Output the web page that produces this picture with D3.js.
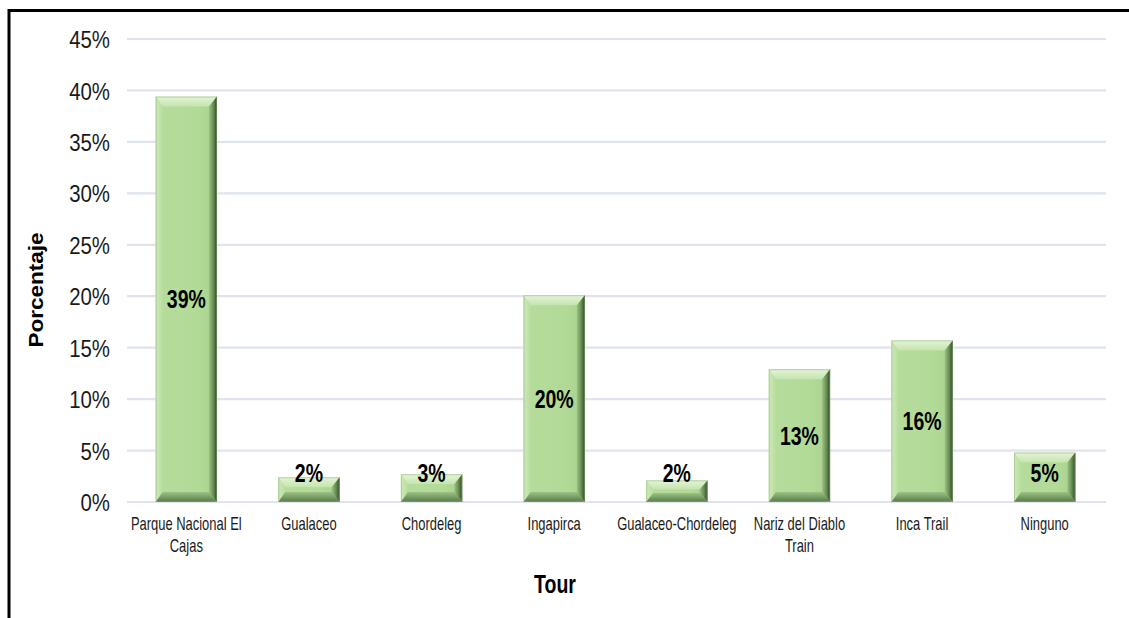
<!DOCTYPE html>
<html>
<head>
<meta charset="utf-8">
<script src="https://cdn.jsdelivr.net/npm/d3@7"></script>
<style>
  html, body { margin: 0; padding: 0; background: #fff; }
  svg { display: block; }
  text { font-family: "Liberation Sans", Arial, sans-serif; }
</style>
</head>
<body>
<svg id="chart" width="1129" height="618"></svg>
<script>
// ---- data ----
const categories = ["Parque Nacional El Cajas", "Gualaceo", "Chordeleg", "Ingapirca",
                    "Gualaceo-Chordeleg", "Nariz del Diablo Train", "Inca Trail", "Ninguno"];
const categoryLines = [["Parque Nacional El", "Cajas"], ["Gualaceo"], ["Chordeleg"], ["Ingapirca"],
                       ["Gualaceo-Chordeleg"], ["Nariz del Diablo", "Train"], ["Inca Trail"], ["Ninguno"]];
const values = [39.4, 2.4, 2.7, 20.1, 2.1, 12.9, 15.7, 4.8];
const yTicks = [0, 5, 10, 15, 20, 25, 30, 35, 40, 45];
const xTitle = "Tour";
const yTitle = "Porcentaje";

// ---- layout ----
const W = 1129, H = 618;
const plot = { left: 125, right: 1106, top: 39, bottom: 502 };
const svg = d3.select("#chart");

const x = d3.scaleBand().domain(categories).range([plot.left, plot.right]).paddingInner(0.5).paddingOuter(0.25);
const y = d3.scaleLinear().domain([0, 45]).range([plot.bottom, plot.top]);

// condensed text helper: a group translated to the anchor, text scaled horizontally
function ctext(parent, px, py, str, opts) {
  const g = parent.append("g").attr("transform", `translate(${px},${py}) scale(${opts.k},1)`);
  return g.append("text").attr("x", 0).attr("y", 0)
    .attr("font-size", opts.size).attr("font-weight", opts.bold ? "bold" : "normal")
    .attr("fill", opts.fill || "#000").attr("text-anchor", opts.anchor || "middle")
    .attr("dominant-baseline", opts.baseline || "auto")
    .text(str);
}

// frame
svg.append("line").attr("x1", 8).attr("x2", W).attr("y1", 10.5).attr("y2", 10.5)
  .attr("stroke", "#000").attr("stroke-width", 3);
svg.append("line").attr("x1", 9).attr("x2", 9).attr("y1", 9).attr("y2", H)
  .attr("stroke", "#000").attr("stroke-width", 3);

// gridlines
svg.append("g").selectAll("line").data(yTicks).join("line")
  .attr("x1", plot.left + 2).attr("x2", plot.right)
  .attr("y1", d => y(d)).attr("y2", d => y(d))
  .attr("stroke", "#dfe4ee").attr("stroke-width", 2.2);

// y axis labels
const yAxis = d3.axisLeft(y).tickValues(yTicks).tickFormat(d => d + "%").tickSize(0).tickPadding(15);
const gy = svg.append("g").attr("transform", `translate(${plot.left},0)`).call(yAxis);
gy.select(".domain").remove();
gy.selectAll("text")
  .attr("font-family", "Liberation Sans, Arial, sans-serif")
  .attr("font-size", 24).attr("fill", "#1a1a1a")
  .attr("x", 0).attr("dy", "0.36em")
  .attr("transform", "translate(-15,0) scale(0.85,1)");

// x axis labels
const gx = svg.append("g");
categories.forEach((c, i) => {
  const cx = x(c) + x.bandwidth() / 2;
  categoryLines[i].forEach((ln, j) => {
    ctext(gx, cx, plot.bottom + 28 + j * 21.5, ln, { k: 0.74, size: 17.5, fill: "#1a1a1a" });
  });
});

// gradients for bevels
const defs = svg.append("defs");
function grad(id, x1, y1, x2, y2, stops) {
  const g = defs.append("linearGradient").attr("id", id)
    .attr("x1", x1).attr("y1", y1).attr("x2", x2).attr("y2", y2);
  stops.forEach(s => g.append("stop").attr("offset", s[0]).attr("stop-color", s[1]));
}
grad("gTop", 0, 0, 0, 1, [[0, "#e4f4d8"], [1, "#c4e4ad"]]);
grad("gLeft", 0, 0, 1, 0, [[0, "#cde9b8"], [1, "#b9dd9f"]]);
grad("gRight", 0, 0, 1, 0, [[0, "#9cc382"], [0.6, "#628850"], [1, "#2a4022"]]);
grad("gBottom", 0, 0, 0, 1, [[0, "#9dc284"], [1, "#567946"]]);
grad("gFace", 0, 0, 1, 0, [[0, "#b6dc9c"], [0.7, "#b2da97"], [1, "#a8d18c"]]);

// bars
const bars = svg.append("g");
categories.forEach((c, i) => {
  const x0 = x(c), x1 = x(c) + x.bandwidth();
  const yt = y(values[i]), yb = y(0);
  const h = yb - yt;
  const dv = Math.min(10, h / 2.4), dl = 7, dr = 8;
  const g = bars.append("g");
  g.append("rect").attr("x", x0).attr("y", yt).attr("width", x1 - x0).attr("height", h).attr("fill", "url(#gFace)");
  const poly = (pts, fill) => g.append("polygon").attr("points", pts.map(p => p.join(",")).join(" ")).attr("fill", fill);
  poly([[x0, yt], [x1, yt], [x1 - dr, yt + dv], [x0 + dl, yt + dv]], "url(#gTop)");
  poly([[x0, yt], [x0 + dl, yt + dv], [x0 + dl, yb - dv], [x0, yb]], "url(#gLeft)");
  poly([[x1, yt], [x1, yb], [x1 - dr, yb - dv], [x1 - dr, yt + dv]], "url(#gRight)");
  poly([[x0, yb], [x0 + dl, yb - dv], [x1 - dr, yb - dv], [x1, yb]], "url(#gBottom)");
  g.append("rect").attr("x", x0 + 0.5).attr("y", yt + 0.5).attr("width", x1 - x0 - 1).attr("height", h - 1)
    .attr("fill", "none").attr("stroke", "#8fb67a").attr("stroke-width", 1).attr("stroke-opacity", 0.5);
});

// data labels
const gl = svg.append("g");
values.forEach((v, i) => {
  const cx = x(categories[i]) + x.bandwidth() / 2;
  const cy = Math.min((y(v) + y(0)) / 2, y(0) - 29);
  ctext(gl, cx, cy, Math.round(v) + "%", { k: 0.75, size: 26, bold: true, baseline: "central" });
});

// axis titles
ctext(svg, 555, 593, xTitle, { k: 0.75, size: 26, bold: true });
const gt = svg.append("g").attr("transform", "translate(43,290) rotate(-90)");
ctext(gt, 0, 0, yTitle, { k: 1.1, size: 20.5, bold: true });
</script>
</body>
</html>
